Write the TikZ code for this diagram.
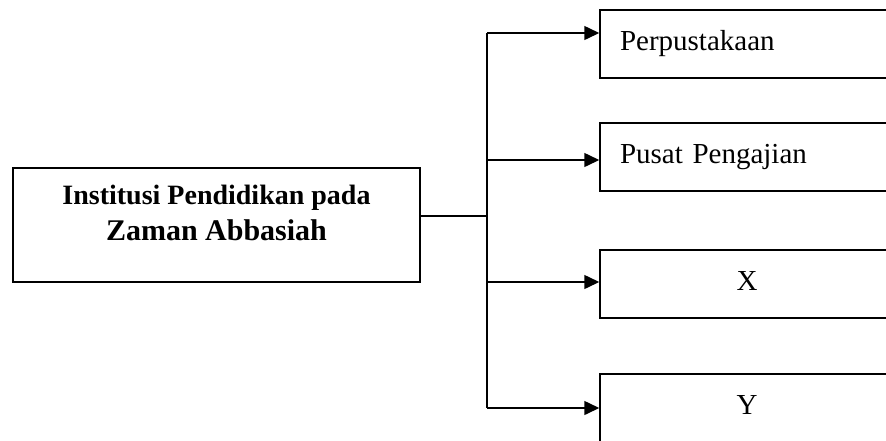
\documentclass[tikz,border=0pt]{standalone}
\usepackage{fontspec}
\setmainfont{Liberation Serif}
\usetikzlibrary{arrows.meta}
\tikzstyle{bx}=[rectangle,draw=black,line width=1.5pt,minimum width=294pt,minimum height=68pt,inner sep=0pt,font=\fontsize{29}{34}\selectfont,text height=20pt,text depth=7pt]
\tikzstyle{ar}=[-{Triangle[length=15pt,width=14pt]},line width=1.5pt]

\begin{document}
\begin{tikzpicture}[x=1pt,y=-1pt]
\useasboundingbox (0,0) rectangle (886,440);
\node[bx,minimum width=407pt,minimum height=114pt,align=center,text height=56pt,text depth=26pt,font=\bfseries\fontsize{28}{36}\selectfont] (inst) at (216.5,225) {Institusi Pendidikan pada\\ \fontsize{30}{36}\selectfont Zaman Abbasiah};
\node[bx,text width=254pt,align=left] (perp) at (747,44) {Perpustakaan};
\node[bx,text width=254pt,align=left] (pusat) at (747,157) {Pusat Pengajian};
\node[bx] (x) at (747,284) {X};
\node[bx] (y) at (747,408) {Y};
\coordinate (h) at (487,216);
\coordinate (t1) at (487,33);
\coordinate (t2) at (487,160);
\coordinate (t3) at (487,282);
\coordinate (t4) at (487,408);
\draw[line width=1.5pt] (h -| inst.east) -- (h);
\draw[line width=1.5pt] (t1) -- (t4);
\draw[ar] (t1) -- (t1 -| perp.west);
\draw[ar] (t2) -- (t2 -| pusat.west);
\draw[ar] (t3) -- (t3 -| x.west);
\draw[ar] (t4) -- (t4 -| y.west);
\end{tikzpicture}
\end{document}
